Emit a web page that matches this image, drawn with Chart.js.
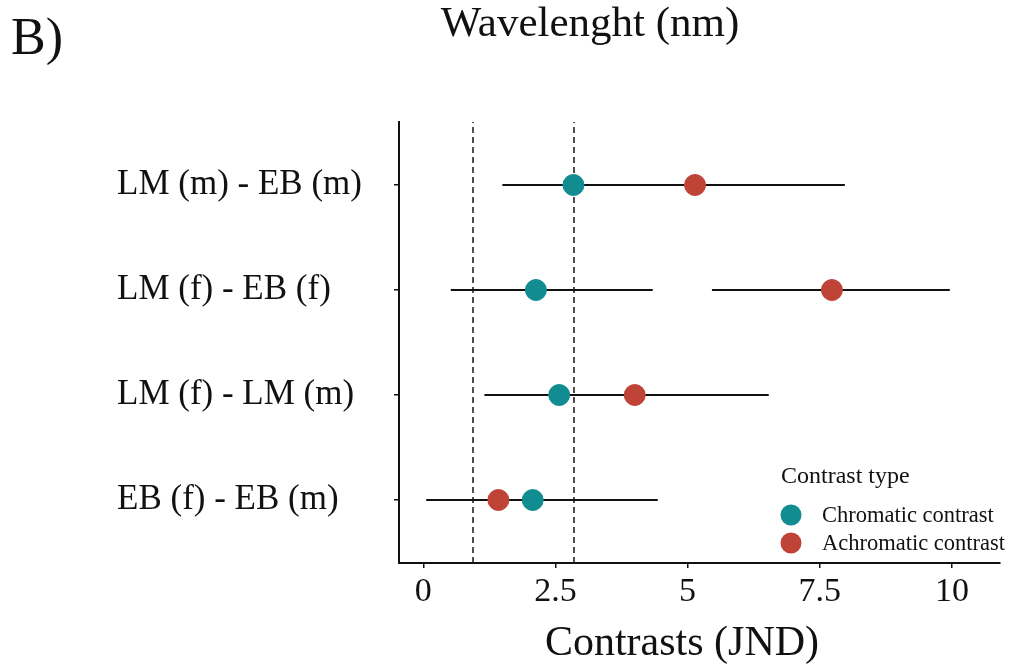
<!DOCTYPE html>
<html>
<head>
<meta charset="utf-8">
<script src="https://cdn.jsdelivr.net/npm/chart.js@4/dist/chart.umd.min.js"></script>
<style>
  html, body { margin: 0; padding: 0; background: #fff; }
  #wrap { width: 1011px; height: 667px; }
</style>
</head>
<body>
<div id="wrap"><canvas id="contrastChart"></canvas></div>
<script>
// comparisons, top row first
const comparisons = ['LM (m) - EB (m)', 'LM (f) - EB (f)', 'LM (f) - LM (m)', 'EB (f) - EB (m)'];
const seriesNames = ['Chromatic contrast', 'Achromatic contrast'];
const seriesColors = ['#118c91', '#bf4337'];

// mean contrasts (JND)
const chromatic = [2.84, 2.13, 2.57, 2.07];
const achromatic = [5.14, 7.73, 4.00, 1.42];

// interval ends
const chromaticLow = [1.50, 0.52, 1.16, 0.06];
const chromaticHigh = [7.97, 4.34, 6.53, 4.43];
const achromaticLow = [1.50, 5.46, 1.16, 0.06];
const achromaticHigh = [7.97, 9.96, 6.53, 4.43];

// thresholds (dashed lines)
const thresholds = [0.94, 2.85];
const xTicks = [0, 2.5, 5, 7.5, 10];

const serif = "'Liberation Serif', 'DejaVu Serif', serif";
const rowY = comparisons.map((c, i) => comparisons.length - i);

function points(vals) {
  return vals.map((v, i) => ({ x: v, y: rowY[i] }));
}
function segments(lo, hi) {
  let out = [];
  lo.forEach((v, i) => {
    out.push({ x: v, y: rowY[i] }, { x: hi[i], y: rowY[i] }, { x: null, y: null });
  });
  return out;
}

let datasets = [];
thresholds.forEach(t => {
  datasets.push({
    label: 'threshold',
    data: [{ x: t, y: 0.4 }, { x: t, y: 4.6 }],
    showLine: true,
    borderColor: '#222',
    borderWidth: 1.6,
    borderDash: [6, 4],
    pointRadius: 0,
    order: 3
  });
});
datasets.push({
  label: 'ci1', data: segments(chromaticLow, chromaticHigh), showLine: true,
  borderColor: '#111', borderWidth: 2, pointRadius: 0, spanGaps: false, order: 2
});
datasets.push({
  label: 'ci2', data: segments(achromaticLow, achromaticHigh), showLine: true,
  borderColor: '#111', borderWidth: 2, pointRadius: 0, spanGaps: false, order: 2
});
datasets.push({
  label: seriesNames[1], data: points(achromatic),
  backgroundColor: seriesColors[1], borderColor: seriesColors[1],
  pointRadius: 10.5, pointHoverRadius: 10.5, order: 1
});
datasets.push({
  label: seriesNames[0], data: points(chromatic),
  backgroundColor: seriesColors[0], borderColor: seriesColors[0],
  pointRadius: 10.5, pointHoverRadius: 10.5, order: 0
});

// titles and legend, placed like the ggplot figure
const decorations = {
  id: 'decorations',
  afterDraw(chart) {
    const ctx = chart.ctx;
    ctx.save();
    ctx.fillStyle = '#111';
    ctx.textBaseline = 'alphabetic';
    ctx.textAlign = 'left';
    ctx.font = '52px ' + serif;
    ctx.fillText('B)', 11, 54);
    ctx.textAlign = 'center';
    ctx.font = '43px ' + serif;
    ctx.fillText('Wavelenght (nm)', 590, 36);
    ctx.font = '42px ' + serif;
    ctx.fillText('Contrasts (JND)', 682, 655);

    ctx.textAlign = 'left';
    ctx.font = '24px ' + serif;
    ctx.fillText('Contrast type', 781, 483);
    ctx.font = '22.5px ' + serif;
    seriesNames.forEach((name, i) => {
      const y = 515 + i * 28;
      ctx.beginPath();
      ctx.fillStyle = seriesColors[i];
      ctx.arc(791, y, 10.5, 0, Math.PI * 2);
      ctx.fill();
      ctx.fillStyle = '#111';
      ctx.fillText(name, 822, y + 7);
    });
    ctx.restore();
  }
};

new Chart(document.getElementById('contrastChart'), {
  type: 'scatter',
  data: { datasets: datasets },
  options: {
    responsive: true,
    maintainAspectRatio: false,
    animation: false,
    layout: { padding: { top: 122, right: 11, left: 117, bottom: 0 } },
    plugins: { legend: { display: false }, tooltip: { enabled: false } },
    scales: {
      x: {
        type: 'linear',
        min: -0.46,
        max: 10.9,
        afterBuildTicks: scale => { scale.ticks = xTicks.map(v => ({ value: v })); },
        afterFit: scale => { scale.height = 104; },
        border: { color: '#111', width: 2 },
        grid: { drawOnChartArea: false, color: '#111', tickLength: 5, lineWidth: 1.5 },
        ticks: {
          color: '#111', padding: 4, maxRotation: 0,
          font: { family: serif, size: 34 },
          callback: v => String(v)
        }
      },
      y: {
        type: 'linear',
        min: 0.4,
        max: 4.6,
        afterBuildTicks: scale => { scale.ticks = rowY.map(v => ({ value: v })); },
        afterFit: scale => { scale.width = 282; },
        border: { color: '#111', width: 2 },
        grid: { drawOnChartArea: false, color: '#111', tickLength: 5, lineWidth: 1.5 },
        ticks: {
          color: '#111', padding: 32, crossAlign: 'far',
          font: { family: serif, size: 35 },
          callback: v => comparisons[comparisons.length - v]
        }
      }
    }
  },
  plugins: [decorations]
});
</script>
</body>
</html>
